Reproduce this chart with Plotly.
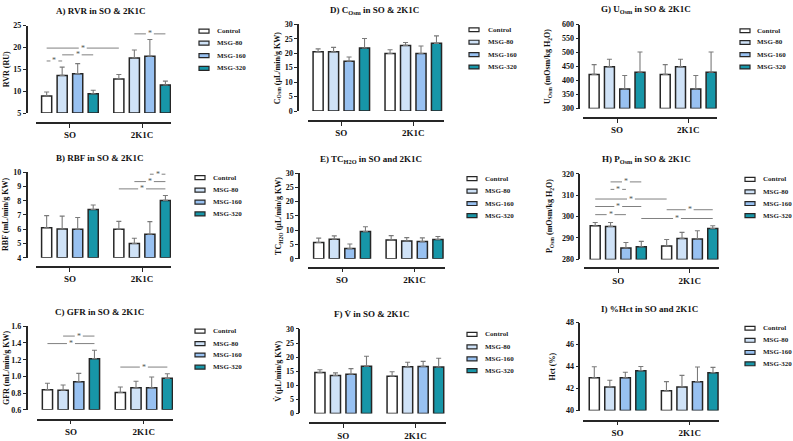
import plotly.graph_objects as go

W, H = 793, 441

groups = ["SO", "2K1C"]
series = ["Control", "MSG-80", "MSG-160", "MSG-320"]
fills = ["#ffffff", "#cfe2f7", "#98c1f1", "#1796a8"]

# ---- data (mean per group x series, SEM, y ticks, significance brackets) ----
rvr_mean = [[8.9, 13.6, 14.0, 9.4], [12.8, 17.6, 18.0, 11.4]]
rvr_sem = [[0.9, 1.9, 2.3, 0.8], [1.0, 1.8, 3.8, 0.9]]
rvr_ticks = [5, 10, 15, 20, 25]
rvr_sig = [(0, 0, 0, 1, 16.9), (0, 1, 0, 3, 18.3), (0, 0, 1, 0, 19.85), (1, 1, 1, 3, 23.1)]

rbf_mean = [[6.1, 6.02, 6.0, 7.38], [6.0, 5.0, 5.65, 8.02]]
rbf_sem = [[0.85, 0.9, 0.82, 0.32], [0.55, 0.37, 0.88, 0.35]]
rbf_ticks = [4, 5, 6, 7, 8, 9, 10]
rbf_sig = [(1, 2, 1, 3, 9.86), (1, 1, 1, 3, 9.34), (1, 0, 1, 3, 8.83)]

gfr_mean = [[0.84, 0.835, 0.936, 1.213], [0.808, 0.863, 0.863, 0.977]]
gfr_sem = [[0.078, 0.062, 0.1, 0.1], [0.065, 0.08, 0.13, 0.055]]
gfr_ticks = [0.6, 0.8, 1.0, 1.2, 1.4, 1.6]
gfr_sig = [(0, 1, 0, 3, 1.483), (0, 0, 0, 3, 1.393), (1, 0, 1, 3, 1.112)]

cosm_mean = [[20.5, 20.5, 17.2, 21.8], [19.9, 22.7, 19.9, 23.4]]
cosm_sem = [[1.0, 1.5, 1.5, 3.3], [1.3, 1.0, 2.6, 2.6]]
cosm_ticks = [0, 5, 10, 15, 20, 25, 30]
cosm_sig = []

tch2o_mean = [[5.7, 6.8, 3.55, 9.5], [6.6, 6.2, 6.0, 6.75]]
tch2o_sem = [[1.5, 1.2, 1.6, 1.7], [1.5, 1.2, 1.3, 1.05]]
tch2o_ticks = [0, 5, 10, 15, 20, 25, 30]
tch2o_sig = []

v_mean = [[14.5, 13.45, 13.9, 16.8], [13.2, 16.6, 16.7, 16.5]]
v_sem = [[1.0, 0.95, 2.0, 3.5], [1.6, 1.6, 1.8, 3.1]]
v_ticks = [0, 5, 10, 15, 20, 25, 30]
v_sig = []

uosm_mean = [[422, 449, 370, 430], [422, 449, 370, 430]]
uosm_sem = [[35, 27, 48, 72], [35, 27, 48, 72]]
uosm_ticks = [300, 350, 400, 450, 500, 550, 600]
uosm_sig = []

posm_mean = [[295.7, 295.4, 285.3, 285.9], [286.3, 289.8, 289.5, 294.4]]
posm_sem = [[1.5, 1.8, 2.6, 2.5], [3.0, 2.8, 3.9, 1.3]]
posm_ticks = [280, 290, 300, 310, 320]
posm_sig = [(0, 1, 0, 3, 316.2), (0, 1, 0, 2, 312.7), (0, 0, 1, 0, 308.2),
            (0, 0, 0, 3, 304.7), (0, 0, 0, 2, 300.9), (1, 0, 1, 3, 303.2),
            (0, 3, 1, 3, 299.1)]

hct_mean = [[42.98, 42.15, 42.98, 43.63], [41.8, 42.15, 42.63, 43.45]]
hct_sem = [[1.0, 0.6, 0.5, 0.38], [0.83, 1.05, 1.33, 0.48]]
hct_ticks = [40, 42, 44, 46, 48]
hct_sig = []

titles = {
    "A": "A) RVR in SO &amp; 2K1C",
    "B": "B) RBF in SO &amp; 2K1C",
    "C": "C) GFR in SO &amp; 2K1C",
    "D": "D) C<sub>Osm</sub> in SO &amp; 2K1C",
    "E": "E) TC<sub>H2O</sub> in SO and 2K1C",
    "F": "F) V\u0307 in SO &amp; 2K1C",
    "G": "G) U<sub>Osm</sub> in SO &amp; 2K1C",
    "H": "H) P<sub>Osm</sub> in SO &amp; 2K1C",
    "I": "I) %Hct in SO and 2K1C",
}
ytitles = {
    "A": "RVR (RU)",
    "B": "RBF (mL/min/g KW)",
    "C": "GFR (mL/min/g KW)",
    "D": "C<sub>Osm</sub> (\u03bcL/min/g KW)",
    "E": "TC<sub>H2O</sub> (\u03bcL/min/g KW)",
    "F": "V\u0307 (\u03bcL/min/g KW)",
    "G": "U<sub>Osm</sub> (mOsm/kg H<sub>2</sub>O)",
    "H": "P<sub>Osm</sub> (mOsm/kg H<sub>2</sub>O)",
    "I": "Hct (%)",
}

data = {
    "A": (rvr_mean, rvr_sem, rvr_ticks, rvr_sig, "{:g}"),
    "B": (rbf_mean, rbf_sem, rbf_ticks, rbf_sig, "{:g}"),
    "C": (gfr_mean, gfr_sem, gfr_ticks, gfr_sig, "{:.1f}"),
    "D": (cosm_mean, cosm_sem, cosm_ticks, cosm_sig, "{:g}"),
    "E": (tch2o_mean, tch2o_sem, tch2o_ticks, tch2o_sig, "{:g}"),
    "F": (v_mean, v_sem, v_ticks, v_sig, "{:g}"),
    "G": (uosm_mean, uosm_sem, uosm_ticks, uosm_sig, "{:g}"),
    "H": (posm_mean, posm_sem, posm_ticks, posm_sig, "{:g}"),
    "I": (hct_mean, hct_sem, hct_ticks, hct_sig, "{:g}"),
}

# ---- layout geometry (pixels) ----
geom = {
    "A": dict(L=36, R=171, yx=26.7, ytx=6, top=22, bot=111.3, xa=121.3, tx=100, ty=7,
              lx=199, ltx=215, lrows=[27.7, 40, 52.7, 65.7], xr=[-0.47, 1.40]),
    "B": dict(L=36, R=171, yx=26.7, ytx=6, top=171.7, bot=259, xa=268.3, tx=99, ty=157.3,
              lx=195, ltx=211, lrows=[177.3, 190, 202.3, 214.3], xr=[-0.47, 1.40]),
    "C": dict(L=36.7, R=173, yx=26.7, ytx=6, top=329, bot=414.3, xa=424.3, tx=99, ty=314,
              lx=195, ltx=211, lrows=[334, 346.7, 358.3, 370.7], xr=[-0.47, 1.40]),
    "D": dict(L=307.5, R=443.5, yx=298, ytx=277.5, top=20.7, bot=109.3, xa=119.3, tx=374, ty=7,
              lx=469, ltx=486, lrows=[26.3, 39, 51.7, 64.3], xr=[-0.47, 1.42]),
    "E": dict(L=308, R=445, yx=299, ytx=279, top=172.7, bot=260, xa=269, tx=370.7, ty=159,
              lx=467, ltx=483, lrows=[178.3, 191, 203.7, 216], xr=[-0.47, 1.42]),
    "F": dict(L=309.3, R=445.7, yx=299.3, ytx=277.5, top=331.7, bot=418, xa=427.7, tx=371.7, ty=316.7,
              lx=467, ltx=483, lrows=[337.3, 350, 362.3, 374.3], xr=[-0.47, 1.42]),
    "G": dict(L=583.3, R=717.3, yx=579.3, ytx=547.5, top=21, bot=106.7, xa=116.3, tx=645.7, ty=6,
              lx=740, ltx=755, lrows=[27.3, 39.3, 51.7, 64.3], xr=[-0.475, 1.41]),
    "H": dict(L=584.3, R=719, yx=579.3, ytx=549.5, top=173.3, bot=260.7, xa=270, tx=646.7, ty=159,
              lx=745, ltx=760.7, lrows=[179, 191.7, 203.7, 216], xr=[-0.475, 1.41]),
    "I": dict(L=583.3, R=719.3, yx=579.3, ytx=553, top=325.3, bot=415, xa=425.3, tx=649, ty=311.7,
              lx=745, ltx=760.7, lrows=[331, 343.3, 355.7, 367.3], xr=[-0.475, 1.41]),
}

SLOT = 0.215
BW = 0.14
FONT = "Liberation Serif"
DARK = "#262626"


def px(x):
    return x / W


def py(y):
    return 1 - y / H


def bar_x(g, i):
    return g + (i - 1.5) * SLOT


fig = go.Figure()
shapes = []
annotations = []
layout_axes = {}

for n, key in enumerate("ABCDEFGHI", start=1):
    mean, sem, ticks, sig, fmt = data[key]
    g = geom[key]
    ymin, ymax = ticks[0], ticks[-1]
    xs = "x" if n == 1 else f"x{n}"
    ys = "y" if n == 1 else f"y{n}"
    for i, name in enumerate(series):
        vals = [mean[k][i] for k in range(len(groups))]
        errs = [sem[k][i] for k in range(len(groups))]
        fig.add_trace(go.Bar(
            x=[bar_x(k, i) for k in range(len(groups))],
            y=[v - ymin for v in vals],
            base=ymin,
            width=BW,
            name=name,
            showlegend=False,
            marker=dict(color=fills[i], line=dict(color=DARK, width=1.5)),
            error_y=dict(type="data", symmetric=False, array=errs,
                         arrayminus=[0] * len(errs), color="#7a7a7a",
                         thickness=1.1, width=2.5),
            xaxis=xs, yaxis=ys,
        ))
    layout_axes["xaxis" if n == 1 else f"xaxis{n}"] = dict(
        domain=[px(g["L"]), px(g["R"])], range=g["xr"], anchor="free",
        position=py(g["xa"]), showline=True, linecolor=DARK, linewidth=1.5,
        tickvals=list(range(len(groups))), ticktext=groups, ticks="outside",
        ticklen=4, tickwidth=1.2, tickcolor=DARK, showgrid=False, zeroline=False,
        tickfont=dict(family=FONT, size=9, color="#111", weight="bold"),
    )
    layout_axes["yaxis" if n == 1 else f"yaxis{n}"] = dict(
        domain=[py(g["bot"]), py(g["top"])], range=[ymin, ymax], anchor="free",
        position=px(g["yx"]), showline=True, linecolor=DARK, linewidth=1.5,
        tickvals=ticks, ticktext=[fmt.format(t) for t in ticks], ticks="outside",
        ticklen=3, tickwidth=1.2, tickcolor=DARK, showgrid=False, zeroline=False,
        tickfont=dict(family=FONT, size=8, color="#111", weight="bold"),
    )
    annotations.append(dict(text=f"<b>{titles[key]}</b>", x=px(g["tx"]), y=py(g["ty"]),
                            xref="paper", yref="paper", showarrow=False,
                            font=dict(family=FONT, size=9, color="#111"),
                            xanchor="center", yanchor="middle"))
    annotations.append(dict(text=f"<b>{ytitles[key]}</b>", x=px(g["ytx"]),
                            y=py((g["top"] + g["bot"]) / 2), xref="paper", yref="paper",
                            showarrow=False, textangle=-90,
                            font=dict(family=FONT, size=8, color="#111"),
                            xanchor="center", yanchor="middle"))
    for i, name in enumerate(series):
        yr = g["lrows"][i]
        shapes.append(dict(type="rect", xref="paper", yref="paper",
                           x0=px(g["lx"]), x1=px(g["lx"] + 10),
                           y0=py(yr + 2), y1=py(yr - 2),
                           fillcolor=fills[i], line=dict(color=DARK, width=1.2)))
        annotations.append(dict(text=f"<b>{name}</b>", x=px(g["ltx"]), y=py(yr),
                                xref="paper", yref="paper", showarrow=False,
                                font=dict(family=FONT, size=7, color="#222"),
                                xanchor="left", yanchor="middle"))
    gap = 0.055
    for (ga, ia, gb, ib, lvl) in sig:
        xa_, xb_ = bar_x(ga, ia), bar_x(gb, ib)
        mid = (xa_ + xb_) / 2
        for (s0, s1) in ((xa_, mid - gap), (mid + gap, xb_)):
            shapes.append(dict(type="line", xref=xs, yref=ys, x0=s0, x1=s1,
                               y0=lvl, y1=lvl, line=dict(color="#808080", width=1)))
        annotations.append(dict(text="*", x=mid, y=lvl, xref=xs, yref=ys,
                                showarrow=False, font=dict(family=FONT, size=8, color="#555"),
                                xanchor="center", yanchor="middle"))

fig.update_layout(
    width=W, height=H, margin=dict(l=0, r=0, t=0, b=0),
    paper_bgcolor="white", plot_bgcolor="white",
    barmode="overlay", showlegend=False,
    shapes=shapes, annotations=annotations,
    **layout_axes,
)

fig.write_html("out.html", config={"displayModeBar": False},
               post_script="document.body.style.margin='0px';")
